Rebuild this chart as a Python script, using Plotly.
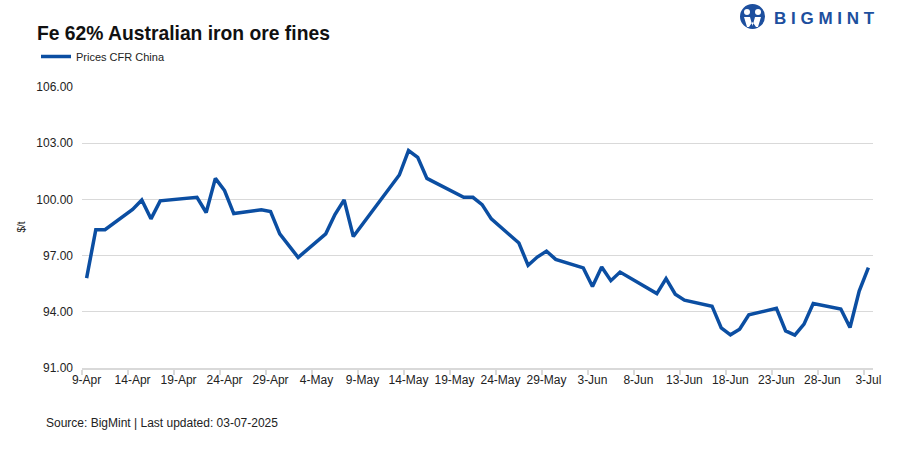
import plotly.graph_objects as go
import pandas as pd

# ---- data ----
dates = [
    "2025-04-09", "2025-04-10", "2025-04-11", "2025-04-14", "2025-04-15", "2025-04-16",
    "2025-04-17", "2025-04-21", "2025-04-22", "2025-04-23", "2025-04-24", "2025-04-25",
    "2025-04-28", "2025-04-29", "2025-04-30", "2025-05-02", "2025-05-05", "2025-05-06",
    "2025-05-07", "2025-05-08", "2025-05-13", "2025-05-14", "2025-05-15", "2025-05-16",
    "2025-05-20", "2025-05-21", "2025-05-22", "2025-05-23", "2025-05-26", "2025-05-27",
    "2025-05-28", "2025-05-29", "2025-05-30", "2025-06-02", "2025-06-03", "2025-06-04",
    "2025-06-05", "2025-06-06", "2025-06-10", "2025-06-11", "2025-06-12", "2025-06-13",
    "2025-06-16", "2025-06-17", "2025-06-18", "2025-06-19", "2025-06-20", "2025-06-23",
    "2025-06-24", "2025-06-25", "2025-06-26", "2025-06-27", "2025-06-30", "2025-07-01",
    "2025-07-02", "2025-07-03",
]
prices = [
    95.80, 98.38, 98.38, 99.46, 99.97, 98.96,
    99.92, 100.11, 99.30, 101.12, 100.47, 99.24,
    99.44, 99.35, 98.16, 96.90, 98.16, 99.19,
    99.97, 98.02, 101.30, 102.60, 102.24, 101.12,
    100.11, 100.11, 99.72, 98.96, 97.67, 96.48,
    96.92, 97.24, 96.80, 96.34, 95.35, 96.39,
    95.66, 96.12, 94.97, 95.77, 94.94, 94.62,
    94.30, 93.14, 92.77, 93.07, 93.84, 94.18,
    92.98, 92.76, 93.34, 94.44, 94.15, 93.16,
    95.11, 96.36,
]
tick_labels = ["9-Apr", "14-Apr", "19-Apr", "24-Apr", "29-Apr", "4-May", "9-May",
               "14-May", "19-May", "24-May", "29-May", "3-Jun", "8-Jun", "13-Jun",
               "18-Jun", "23-Jun", "28-Jun", "3-Jul"]
y_ticks = [91, 94, 97, 100, 103, 106]
series_name = "Prices CFR China"
title_text = "Fe 62% Australian iron ore fines"
source_text = "Source: BigMint | Last updated: 03-07-2025"

tick_vals = [pd.Timestamp(f"{lbl}-2025") for lbl in tick_labels]

W, H = 899, 457
L, R, T, B = 82, 26, 86, 89
PW, PH = W - L - R, H - T - B

def px(xp):
    return (xp - L) / PW

def py(yp):
    return (H - B - yp) / PH

BLUE = "#0b4ea2"
FONT = "Liberation Sans, Arial, sans-serif"

fig = go.Figure()
fig.add_trace(go.Scatter(
    x=pd.to_datetime(dates), y=prices, mode="lines", name=series_name,
    line=dict(color=BLUE, width=3.5),
))

fig.update_layout(
    width=W, height=H,
    margin=dict(l=L, r=R, t=T, b=B, autoexpand=False),
    paper_bgcolor="white", plot_bgcolor="white",
    font=dict(family=FONT, size=12, color="#222222"),
    showlegend=True,
    legend=dict(
        x=px(36), y=py(42), xref="paper", yref="paper",
        xanchor="left", yanchor="top", orientation="h",
        font=dict(size=11, color="#222222"), bgcolor="rgba(0,0,0,0)",
        itemwidth=30, tracegroupgap=0,
    ),
    title=dict(
        text=f"<b>{title_text}</b>", x=37 / W, xanchor="left", xref="container",
        y=1 - 33 / H, yanchor="middle", yref="container",
        font=dict(size=19.3, color="#111111", family=FONT),
    ),
)

fig.update_xaxes(
    type="date", automargin=False,
    range=[pd.Timestamp("2025-04-08 12:00"), pd.Timestamp("2025-07-03 12:00")],
    tickvals=tick_vals, ticktext=tick_labels, ticks="", ticklen=0,
    showgrid=False, showline=True, linecolor="#d9d9d9", linewidth=1.5,
    tickfont=dict(size=12, color="#222222"),
    minor=dict(ticks="outside", ticklen=5, tickcolor="#d9d9d9", tickwidth=1.5,
               tick0="2025-04-08 12:00", dtick=5 * 86400000, showgrid=False),
    zeroline=False,
)
fig.update_yaxes(
    range=[91, 106.05], tickvals=y_ticks, tickformat=".2f", automargin=False,
    showgrid=True, gridcolor="#d9d9d9", gridwidth=1,
    showline=False, zeroline=False, ticks="", ticklabelstandoff=8,
    tickfont=dict(size=12, color="#222222"),
    title=dict(text="$/t", font=dict(size=10, color="#222222"), standoff=8),
)

# source note
fig.add_annotation(
    text=source_text, xref="paper", yref="paper",
    x=px(44), y=py(423), xanchor="left", yanchor="middle", showarrow=False,
    font=dict(size=12, color="#222222"),
)

# BIGMINT logo
fig.add_annotation(
    text="<b>B I G M I N T</b>", xref="paper", yref="paper",
    x=px(772), y=py(18), xanchor="left", yanchor="middle", showarrow=False,
    font=dict(size=17, color="#1d4f9e", family=FONT),
)
fig.add_shape(type="circle", xref="paper", yref="paper",
              x0=px(740), x1=px(765), y0=py(29), y1=py(4),
              fillcolor="#1d4f9e", line=dict(width=0))
for cx in (747, 758):
    fig.add_shape(type="circle", xref="paper", yref="paper",
                  x0=px(cx - 3), x1=px(cx + 3), y0=py(15), y1=py(9),
                  fillcolor="white", line=dict(width=0))
fig.add_shape(type="path", xref="paper", yref="paper",
              path=f"M {px(744)} {py(17)} L {px(750)} {py(17)} L {px(752.5)} {py(26)} "
                   f"L {px(755)} {py(17)} L {px(761)} {py(17)} L {px(758)} {py(27)} "
                   f"L {px(756)} {py(27)} L {px(752.5)} {py(22)} L {px(749)} {py(27)} "
                   f"L {px(747)} {py(27)} Z",
              fillcolor="white", line=dict(width=0))

fig.write_html("out.html", config={"displayModeBar": False},
               post_script="document.body.style.margin='0';")
